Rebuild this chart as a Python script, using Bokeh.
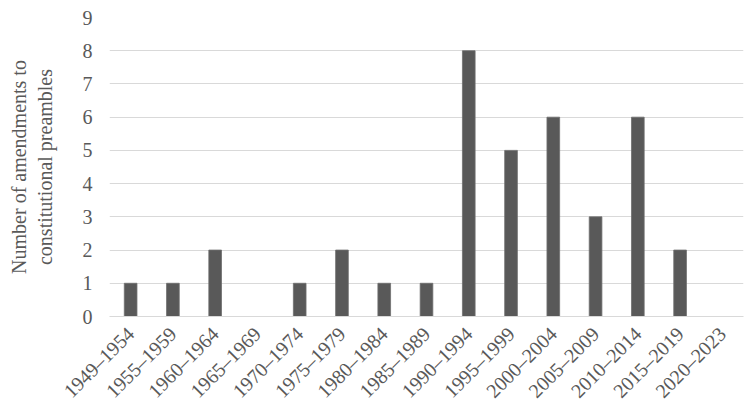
import math
from bokeh.plotting import figure
from bokeh.models import ColumnDataSource, Range1d, FixedTicker
from bokeh.embed import file_html
from bokeh.resources import INLINE

periods = ["1949–1954", "1955–1959", "1960–1964", "1965–1969", "1970–1974",
           "1975–1979", "1980–1984", "1985–1989", "1990–1994", "1995–1999",
           "2000–2004", "2005–2009", "2010–2014", "2015–2019", "2020–2023"]
amendments = [1, 1, 2, 0, 1, 2, 1, 1, 8, 5, 6, 3, 6, 2, 0]
y_ticks = [0, 1, 2, 3, 4, 5, 6, 7, 8, 9]

FONT = "Liberation Serif"
TXT = "#595959"

src = ColumnDataSource(dict(period=periods, n=amendments))

p = figure(x_range=periods, y_range=Range1d(0, 9), width=746, height=412,
           output_backend="svg", toolbar_location=None,
           min_border_left=109, min_border_right=3, min_border_top=17,
           min_border_bottom=84)
p.outline_line_color = None
p.background_fill_color = "white"
p.border_fill_color = "white"

p.vbar(x="period", top="n", width=0.3, source=src,
       fill_color="#595959", line_color="#6f6f6f", line_width=0.8)

p.xgrid.grid_line_color = None
p.ygrid.grid_line_color = "#d9d9d9"
p.ygrid.grid_line_width = 1.2
p.ygrid.ticker = FixedTicker(ticks=y_ticks)

p.yaxis.ticker = FixedTicker(ticks=y_ticks)
p.yaxis.axis_line_color = None
p.yaxis.major_tick_line_color = None
p.yaxis.minor_tick_line_color = None
p.yaxis.major_tick_out = 0
p.yaxis.major_tick_in = 0
p.yaxis.minor_tick_out = 0
p.yaxis.major_label_standoff = 17
p.yaxis.major_label_text_font = FONT
p.yaxis.major_label_text_font_size = "20px"
p.yaxis.major_label_text_color = TXT
p.yaxis.axis_label = "Number of amendments to\nconstitutional preambles"
p.yaxis.axis_label_text_font = FONT
p.yaxis.axis_label_text_font_size = "20px"
p.yaxis.axis_label_text_font_style = "normal"
p.yaxis.axis_label_text_color = TXT
p.yaxis.axis_label_standoff = 24
p.yaxis.axis_label_text_line_height = 1.15

p.xaxis.axis_line_color = "#d9d9d9"
p.xaxis.axis_line_width = 1.2
p.xaxis.major_tick_line_color = None
p.xaxis.minor_tick_line_color = None
p.xaxis.major_tick_out = 0
p.xaxis.major_tick_in = 0
p.xaxis.minor_tick_out = 0
p.xaxis.major_label_orientation = math.pi / 4
p.xaxis.major_label_standoff = 14
p.xaxis.major_label_text_font = FONT
p.xaxis.major_label_text_font_size = "20px"
p.xaxis.major_label_text_color = TXT

open("out.html", "w").write(file_html(p, INLINE))
